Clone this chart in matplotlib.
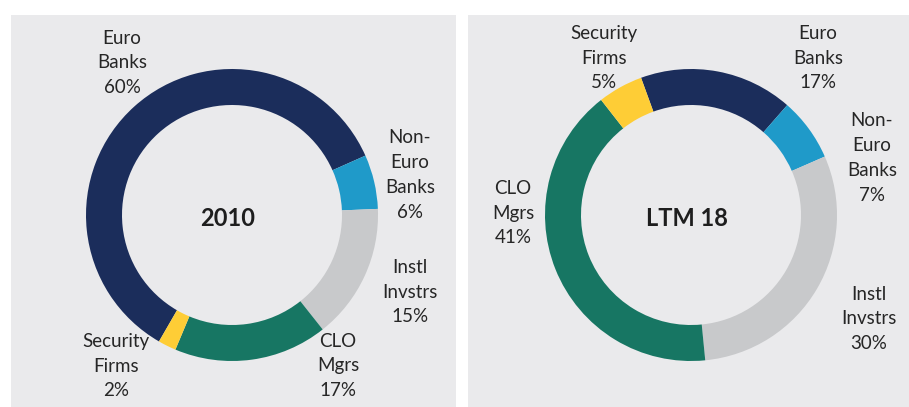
import matplotlib
matplotlib.use("Agg")
import matplotlib.pyplot as plt
from matplotlib.patches import Rectangle

plt.rcParams['font.family'] = ['Lato', 'DejaVu Sans']

categories = ["Euro Banks", "Non-Euro Banks", "Instl Invstrs", "CLO Mgrs", "Security Firms"]
label_text = ["Euro\nBanks", "Non-\nEuro\nBanks", "Instl\nInvstrs", "CLO\nMgrs", "Security\nFirms"]
values_2010 = [60, 6, 15, 17, 2]
values_ltm18 = [17, 7, 30, 41, 5]
titles = ["2010", "LTM 18"]
colors = ["#1b2d5b", "#1f9ac9", "#c8c9cb", "#177663", "#fecd36"]

W, H = 909, 407
fig = plt.figure(figsize=(W / 100, H / 100), dpi=100)
ax = fig.add_axes([0, 0, 1, 1])
ax.set_xlim(0, W)
ax.set_ylim(0, H)
ax.axis("off")

bg = "#eaeaec"
ax.add_patch(Rectangle((11, 0), 445, H - 15, facecolor=bg, edgecolor="none", zorder=0))
ax.add_patch(Rectangle((468, 0), 441, H - 15, facecolor=bg, edgecolor="none", zorder=0))

R, width = 146, 36
panels = [
    dict(vals=values_2010, title=titles[0], center=(232, H - 215), start=240,
         labels=[(122, 63), (410, 175), (410, 292), (338, 366), (116, 366)],
         tpos=(228, 219)),
    dict(vals=values_ltm18, title=titles[1], center=(691, H - 215), start=110,
         labels=[(818, 58), (872, 158), (869, 319), (513, 213), (604, 58)],
         tpos=(687, 219)),
]

for p in panels:
    ax.pie(p["vals"], colors=colors, startangle=p["start"], counterclock=False,
           radius=R, center=p["center"], frame=True,
           wedgeprops=dict(width=width, edgecolor="none", linewidth=0))
    for txt, v, (lx, ly) in zip(label_text, p["vals"], p["labels"]):
        ax.text(lx, H - ly, f"{txt}\n{v}%", ha="center", va="center",
                fontsize=13.5, color="#262626", linespacing=1.57)
    ax.text(p["tpos"][0], H - p["tpos"][1], p["title"], ha="center", va="center",
            fontsize=17, fontweight="bold", color="#1e1e1e")

ax.set_xlim(0, W)
ax.set_ylim(0, H)
ax.axis("off")
fig.savefig("out.png", dpi=100, facecolor="white")
